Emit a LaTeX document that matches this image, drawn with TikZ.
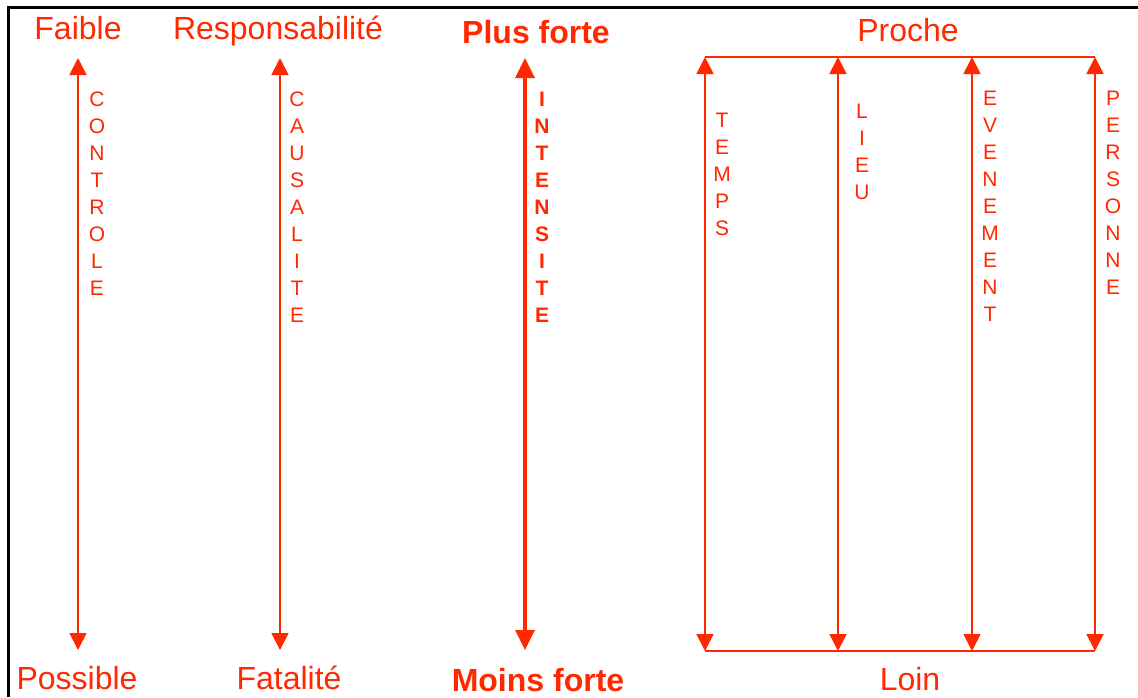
\documentclass[tikz,border=0pt]{standalone}
\usepackage{fontspec}
\setmainfont{Liberation Sans}
\usetikzlibrary{arrows.meta}
\definecolor{rouge}{RGB}{255,40,0}
\tikzset{
  titre/.style={text=rouge, font=\fontsize{32}{36}\selectfont, anchor=base, inner sep=0pt},
  titregras/.style={titre, font=\fontsize{32}{36}\selectfont\bfseries},
  mot/.style={text=rouge, font=\fontsize{21}{27}\selectfont, align=center, anchor=north, inner sep=0pt},
  motgras/.style={mot, font=\fontsize{21}{27}\selectfont\bfseries},
  trait/.style={draw=rouge, line width=1.8pt},
  axe/.style={trait, {Triangle[length=17pt,width=17pt]}-{Triangle[length=17pt,width=17pt]}},
  axegras/.style={draw=rouge, line width=3.5pt, {Triangle[length=20pt,width=19pt]}-{Triangle[length=20pt,width=19pt]}},
}
\begin{document}
\begin{tikzpicture}[x=1pt, y=-1pt]
\useasboundingbox (0,0) rectangle (1138,697);
\draw[line width=3pt] (8,697) -- (8,7) -- (1138,7);
% titres haut et bas
\node[titre] (faible) at (78,39) {Faible};
\node[titre] (possible) at (77,689) {Possible};
\node[titre] (resp) at (278,39) {Responsabilité};
\node[titre] (fatal) at (289,689) {Fatalité};
\node[titregras] (plus) at (536,43) {Plus forte};
\node[titregras] (moins) at (538,691) {Moins forte};
\node[titre] (proche) at (908,41) {Proche};
\node[titre] (loin) at (910,690) {Loin};
% extremites des axes
\coordinate (a1h) at (78,58);  \coordinate (a1b) at (78,650);
\coordinate (a2h) at (280,58); \coordinate (a2b) at (280,650);
\coordinate (a3h) at (525,58); \coordinate (a3b) at (525,650);
\coordinate (p1h) at (705,57); \coordinate (p1b) at (705,651);
\coordinate (p2h) at (838,57); \coordinate (p2b) at (838,651);
\coordinate (p3h) at (972,57); \coordinate (p3b) at (972,651);
\coordinate (p4h) at (1095,57);\coordinate (p4b) at (1095,651);
\draw[axe] (a1b) -- (a1h);
\draw[axe] (a2b) -- (a2h);
\draw[axegras] (a3b) -- (a3h);
\draw[trait] (p1h) -- (p4h) (p1b) -- (p4b);
\foreach \i in {1,...,4}
  \draw[axe] (p\i b) -- (p\i h);
% mots verticaux
\node[mot] (controle) at (97,92) {C\\O\\N\\T\\R\\O\\L\\E};
\node[mot] (causalite) at (297,92) {C\\A\\U\\S\\A\\L\\I\\T\\E};
\node[motgras] (intensite) at (542,92) {I\\N\\T\\E\\N\\S\\I\\T\\E};
\node[mot] (temps) at (722,113) {T\\E\\M\\P\\S};
\node[mot] (lieu) at (862,104) {L\\I\\E\\U};
\node[mot] (evenement) at (990,91) {E\\V\\E\\N\\E\\M\\E\\N\\T};
\node[mot] (personne) at (1113,91) {P\\E\\R\\S\\O\\N\\N\\E};
\end{tikzpicture}
\end{document}
